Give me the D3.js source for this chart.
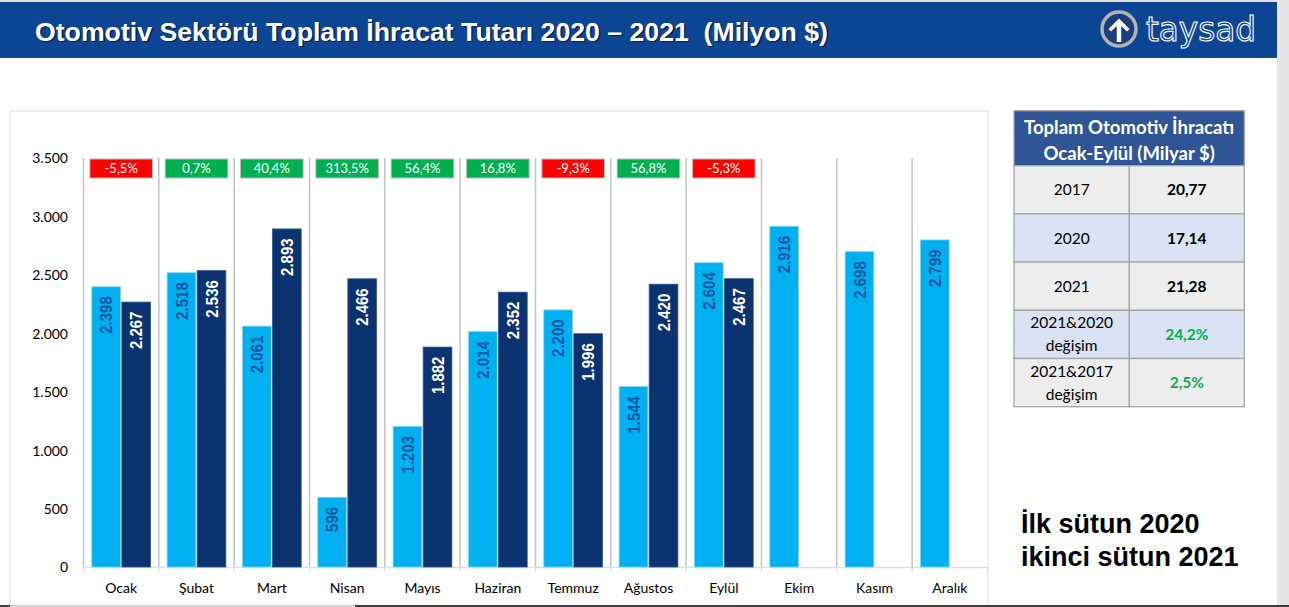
<!DOCTYPE html>
<html>
<head>
<meta charset="utf-8">
<script src="https://cdn.jsdelivr.net/npm/d3@7"></script>
<style>
html,body{margin:0;padding:0;background:#fff;overflow:hidden;}
svg{display:block;}
</style>
</head>
<body>
<svg id="chart" width="1289" height="607"></svg>
<script>
// ---------- data ----------
const months = ['Ocak','Şubat','Mart','Nisan','Mayıs','Haziran','Temmuz','Ağustos','Eylül','Ekim','Kasım','Aralık'];
const series = ['2020','2021'];
const values2020 = [2398,2518,2061,596,1203,2014,2200,1544,2604,2916,2698,2799];
const values2021 = [2267,2536,2893,2466,1882,2352,1996,2420,2467,null,null,null];
const changeLabels = ['-5,5%','0,7%','40,4%','313,5%','56,4%','16,8%','-9,3%','56,8%','-5,3%'];
const yTicks = [0,500,1000,1500,2000,2500,3000,3500];
const titleText = 'Otomotiv Sektörü Toplam İhracat Tutarı 2020 – 2021  (Milyon $)';
const tableHeader = ['Toplam Otomotiv İhracatı','Ocak-Eylül (Milyar $)'];
const tableLabels = [['2017'],['2020'],['2021'],['2021&2020','değişim'],['2021&2017','değişim']];
const tableValues = ['20,77','17,14','21,28','24,2%','2,5%'];
const noteLines = ['İlk sütun 2020','ikinci sütun 2021'];

// ---------- setup ----------
const svg = d3.select('#chart');
const trLocale = d3.formatLocale({decimal:',', thousands:'.', grouping:[3], currency:['','']});
const fmt = trLocale.format(',');
const calibri = 'Lato, "Open Sans", sans-serif';
const arial = '"Liberation Sans", Arial, sans-serif';

// page frame
svg.append('rect').attr('x',0).attr('y',0).attr('width',1289).attr('height',607).attr('fill','#fff');
svg.append('rect').attr('x',0).attr('y',0).attr('width',1289).attr('height',2).attr('fill','#e3e3e3');
svg.append('rect').attr('x',1277).attr('y',0).attr('width',12).attr('height',607).attr('fill','#e6e6e6');

// header band
svg.append('rect').attr('x',0).attr('y',2).attr('width',1277).attr('height',56).attr('fill','#0c4594');
svg.append('text').attr('x',36.5).attr('y',42).text(titleText)
  .attr('font-family',arial).attr('font-weight','bold').attr('font-size',25)
  .attr('textLength',793).attr('lengthAdjust','spacingAndGlyphs')
  .attr('fill','#0a1a3a').attr('opacity',0.85).style('white-space','pre');
svg.append('text').attr('x',35).attr('y',40.5).text(titleText)
  .attr('font-family',arial).attr('font-weight','bold').attr('font-size',25)
  .attr('textLength',793).attr('lengthAdjust','spacingAndGlyphs')
  .attr('fill','#fff').style('white-space','pre');

// logo
const logo = svg.append('g').attr('transform','translate(1119,29)');
logo.append('circle').attr('r',17).attr('fill','#1c3d80').attr('stroke','#b3b3b3').attr('stroke-width',3.5);
logo.append('path').attr('d','M-2.2,13 L-2.2,-3 L-8,2.5 L-10.5,0 L0,-10.5 L10.5,0 L8,2.5 L2.2,-3 L2.2,13 Z').attr('fill','#fff');
svg.append('text').attr('x',1146).attr('y',41).text('taysad')
  .attr('font-family','"DejaVu Sans", sans-serif').attr('font-size',33)
  .attr('fill','none').attr('stroke','#fff').attr('stroke-width',1.1)
  .attr('textLength',110).attr('lengthAdjust','spacingAndGlyphs');

// chart box
svg.append('rect').attr('x',10).attr('y',111).attr('width',978).attr('height',520)
  .attr('fill','#fff').attr('stroke','#dae3f3').attr('stroke-width',1.2);

// scales
const x = d3.scaleBand().domain(months).range([83.5,987.5]).paddingInner(0).paddingOuter(0);
const xs = d3.scaleBand().domain(series).range([8.3, x.bandwidth()-8.3]).paddingInner(0.045).paddingOuter(0);
const y = d3.scaleLinear().domain([0,3500]).range([567,158]);

// y axis labels
const yAxis = d3.axisLeft(y).tickValues(yTicks).tickFormat(fmt).tickSize(0).tickPadding(0);
const yg = svg.append('g').attr('transform','translate(68,0)').call(yAxis);
yg.select('.domain').remove();
yg.selectAll('text').attr('font-family',calibri).attr('font-size',14).attr('fill','#000').attr('dy','0.35em');

// dividers
const bounds = months.map(m => x(m)).concat([x.range()[1]]);
svg.append('g').selectAll('line').data(bounds.slice(0,12)).join('line')
  .attr('x1',d=>d).attr('x2',d=>d).attr('y1',y(3500)).attr('y2',y(0))
  .attr('stroke','#c4c4c4').attr('stroke-width',1.5);

// x axis (baseline and ticks)
const xAxis = d3.axisBottom(x).tickSize(0).tickPadding(0);
const xg = svg.append('g').attr('transform',`translate(0,${y(0)})`).call(xAxis);
xg.select('.domain').attr('stroke','#d6e0f2').attr('stroke-width',1.5);
xg.selectAll('text').attr('font-family',calibri).attr('font-size',14).attr('fill','#000').attr('y',26).attr('dy',0);
svg.append('g').selectAll('line').data(bounds).join('line')
  .attr('x1',d=>d).attr('x2',d=>d).attr('y1',y(0)).attr('y2',y(0)+5)
  .attr('stroke','#d6e0f2').attr('stroke-width',1.2);

// bars
const rows = months.map((m,i)=>({month:m, v2020:values2020[i], v2021:values2021[i]}));
const barData = [];
rows.forEach(r=>{
  barData.push({month:r.month, s:'2020', v:r.v2020});
  if (r.v2021 != null) barData.push({month:r.month, s:'2021', v:r.v2021});
});
const colors = {'2020':'#00b0f0','2021':'#0b336f'};
const strokes = {'2020':'#7fd3f5','2021':'#2d5493'};
const labelColors = {'2020':'#1257a8','2021':'#ffffff'};

const bg = svg.append('g');
bg.selectAll('rect').data(barData).join('rect')
  .attr('x',d=>x(d.month)+xs(d.s)).attr('width',xs.bandwidth())
  .attr('y',d=>y(d.v)).attr('height',d=>y(0)-y(d.v))
  .attr('fill',d=>colors[d.s]).attr('stroke',d=>strokes[d.s]).attr('stroke-width',0.8);

bg.selectAll('text').data(barData).join('text')
  .attr('transform',d=>`translate(${x(d.month)+xs(d.s)+xs.bandwidth()/2},${y(d.v)+9.5}) rotate(-90) scale(1,1.15)`)
  .attr('text-anchor','end').attr('dy','0.36em')
  .attr('font-family',arial).attr('font-weight','bold').attr('font-size',15)
  .attr('fill',d=>labelColors[d.s]).text(d=>fmt(d.v));

// change boxes
const cg = svg.append('g');
const changeData = changeLabels.map((c,i)=>({month:months[i], label:c, neg:c.trim().startsWith('-')}));
const boxW = 62.6, boxH = 19;
cg.selectAll('rect').data(changeData).join('rect')
  .attr('x',d=>x(d.month)+x.bandwidth()/2-boxW/2).attr('y',y(3500)+1)
  .attr('width',boxW).attr('height',boxH)
  .attr('fill',d=>d.neg?'#ff0000':'#00b050').attr('stroke','#bdbdbd').attr('stroke-width',1);
cg.selectAll('text').data(changeData).join('text')
  .attr('x',d=>x(d.month)+x.bandwidth()/2).attr('y',y(3500)+1+boxH/2)
  .attr('dy','0.36em').attr('text-anchor','middle')
  .attr('font-family',calibri).attr('font-size',13).attr('fill','#fff').text(d=>d.label);

// table
const tX0 = 1014, tX1 = 1129.3, tX2 = 1244.3, tY0 = 110.7, headH = 55, rowH = 48.2;
const tg = svg.append('g');
tg.append('rect').attr('x',tX0).attr('y',tY0).attr('width',tX2-tX0).attr('height',headH)
  .attr('fill','#2f5597').attr('stroke','#a6a6a6').attr('stroke-width',1.3);
tg.selectAll('text.h').data(tableHeader).join('text').attr('class','h')
  .attr('x',(tX0+tX2)/2).attr('y',(d,i)=>tY0+23+i*26).attr('text-anchor','middle')
  .attr('font-family',calibri).attr('font-weight','bold').attr('font-size',18.5).attr('fill','#fff').text(d=>d);
const rowFills = ['#ededed','#dae3f3','#ededed','#dae3f3','#ededed'];
const tr = tg.selectAll('g.row').data(tableLabels.map((l,i)=>({label:l, value:tableValues[i], i}))).join('g')
  .attr('class','row').attr('transform',d=>`translate(0,${tY0+headH+d.i*rowH})`);
tr.append('rect').attr('x',tX0).attr('y',0).attr('width',tX1-tX0).attr('height',rowH)
  .attr('fill',d=>rowFills[d.i]).attr('stroke','#a6a6a6').attr('stroke-width',1.3);
tr.append('rect').attr('x',tX1).attr('y',0).attr('width',tX2-tX1).attr('height',rowH)
  .attr('fill',d=>rowFills[d.i]).attr('stroke','#a6a6a6').attr('stroke-width',1.3);
tr.each(function(d){
  const g = d3.select(this);
  const n = d.label.length;
  d.label.forEach((t,j)=>{
    g.append('text').attr('x',(tX0+tX1)/2).attr('y',rowH/2+(j-(n-1)/2)*23).attr('dy','0.36em')
      .attr('text-anchor','middle').attr('font-family',calibri).attr('font-size',15.5).attr('fill','#000').text(t);
  });
  g.append('text').attr('x',(tX1+tX2)/2).attr('y',rowH/2).attr('dy','0.36em')
    .attr('text-anchor','middle').attr('font-family',calibri).attr('font-weight','bold').attr('font-size',15.5)
    .attr('fill',d.value.includes('%')?'#00b050':'#000').text(d.value);
});

// note
svg.append('g').selectAll('text').data(noteLines).join('text')
  .attr('x',1021).attr('y',(d,i)=>533+i*32.5)
  .attr('font-family',arial).attr('font-weight','bold').attr('font-size',27).attr('fill','#000').text(d=>d);

// bottom edge strip
svg.append('rect').attr('x',0).attr('y',605).attr('width',1289).attr('height',2).attr('fill','#3c3c3c');
svg.append('rect').attr('x',10).attr('y',605).attr('width',345).attr('height',2).attr('fill','#d4d4d4');
</script>
</body>
</html>
